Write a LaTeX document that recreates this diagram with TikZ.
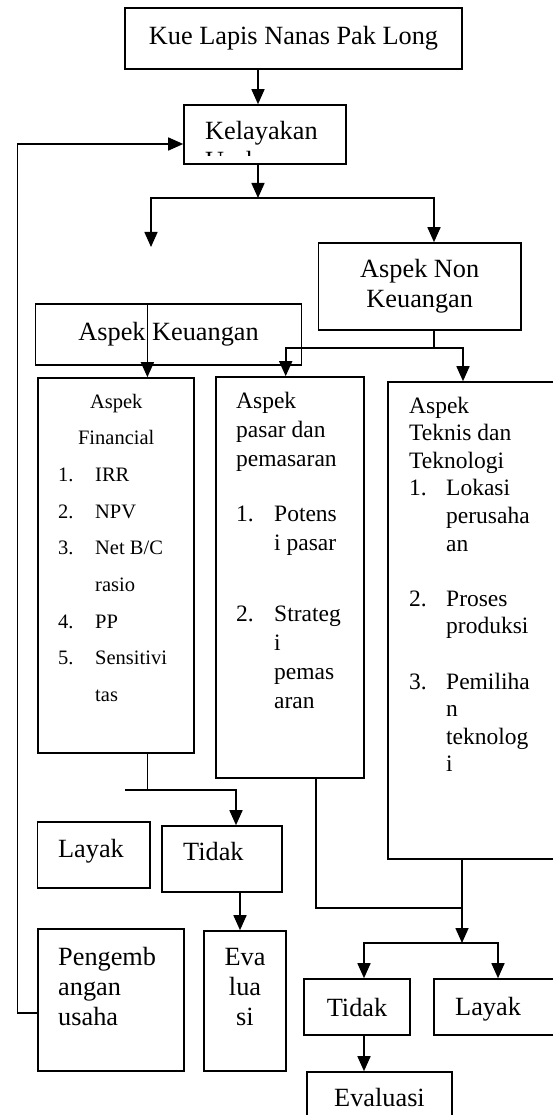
\documentclass[tikz,border=0pt]{standalone}
\usepackage{fontspec}
\setmainfont{Liberation Serif}
\usetikzlibrary{positioning,arrows.meta}

\newcommand\hurufbesar{\fontsize{26.3}{30}\selectfont}
\newcommand\hurufsedang{\fontsize{23.5}{29}\selectfont}
\newcommand\huruftek{\fontsize{23.5}{27.6}\selectfont}
\newcommand\hurufkecil{\fontsize{20.5}{36.7}\selectfont}

\tikzset{
  kotak/.style={draw, line width=1.6pt, inner sep=0pt, font=\hurufbesar},
  teks/.style={inner sep=0pt, font=\hurufbesar},
  panah/.style={line width=1.6pt, -{Triangle[length=15pt,width=13pt]}},
  garis/.style={line width=1.6pt},
  tipis/.style={line width=1.2pt},
}

\begin{document}
\begin{tikzpicture}[x=1pt,y=-1pt]
    \clip (0,0) rectangle (553,1115);
    % kotak atas
    \node[kotak, minimum width=337pt, minimum height=61pt] (kue) at (293.5,38.5) {Kue Lapis Nanas Pak Long};
    \node[kotak, minimum width=162pt, minimum height=59pt] (kel) at (265,134.5) {};
    \begin{scope}
        \clip (kel.north west) rectangle (kel.east |- 0,156);
        \node[teks, anchor=base west] (kel1) at (205,140) {Kelayakan};
        \node[teks, anchor=base west] (kel2) at (205,170) {Usaha};
    \end{scope}
    \node[kotak, minimum width=202.5pt, minimum height=87pt, align=center] (non) at (419.75,286.5) {Aspek Non\\Keuangan};
    \node[kotak, minimum width=266pt, minimum height=61pt] (ak) at (168.6,334.5) {Aspek Keuangan};

    % tiga aspek
    \node[kotak, minimum width=156.3pt, minimum height=375pt] (fin) at (115.85,565.5) {};
    \node[kotak, minimum width=148pt, minimum height=401pt] (pas) at (290,577.5) {};
    \node[kotak, minimum width=182pt, minimum height=477pt] (tek) at (479,620.5) {};
    \node[anchor=base west, inner sep=0pt, font=\hurufkecil] (finteks) at (58,408) {%
        \begin{tabular}[t]{@{}p{37pt}@{}p{79pt}@{}}
        \multicolumn{2}{@{}c@{}}{Aspek}\\
        \multicolumn{2}{@{}c@{}}{Financial}\\
        1. & IRR\\
        2. & NPV\\
        3. & Net B/C\\
           & rasio\\
        4. & PP\\
        5. & Sensitivi\\
           & tas
        \end{tabular}};
    \node[anchor=base west, inner sep=0pt, font=\hurufsedang] (pasteks) at (236,408) {%
        \begin{tabular}[t]{@{}p{38pt}@{}l@{}}
        \multicolumn{2}{@{}l@{}}{Aspek}\\
        \multicolumn{2}{@{}l@{}}{pasar dan}\\
        \multicolumn{2}{@{}l@{}}{pemasaran}\\[26pt]
        1. & Potens\\
           & i pasar\\[42pt]
        2. & Strateg\\
           & i\\
           & pemas\\
           & aran
        \end{tabular}};
    \node[anchor=base west, inner sep=0pt, font=\huruftek] (tekteks) at (409,413) {%
        \begin{tabular}[t]{@{}p{37pt}@{}l@{}}
        \multicolumn{2}{@{}l@{}}{Aspek}\\
        \multicolumn{2}{@{}l@{}}{Teknis dan}\\
        \multicolumn{2}{@{}l@{}}{Teknologi}\\
        1. & Lokasi\\
           & perusaha\\
           & an\\[27.6pt]
        2. & Proses\\
           & produksi\\[27.6pt]
        3. & Pemiliha\\
           & n\\
           & teknolog\\
           & i
        \end{tabular}};

    % hasil kiri
    \node[kotak, minimum width=112.5pt, minimum height=66pt] (lay1) at (93.75,855) {};
    \node[teks, anchor=base] (lay1teks) at (91,857) {Layak};
    \node[kotak, minimum width=120pt, minimum height=66pt] (tid1) at (222,859) {};
    \node[teks, anchor=base west] (tid1teks) at (183,860) {Tidak};
    \node[kotak, minimum width=146.3pt, minimum height=142pt] (peng) at (110.85,1000) {};
    \node[teks, anchor=base west] (pengteks) at (58,965) {%
        \begin{tabular}[t]{@{}l@{}}Pengemb\\angan\\usaha\end{tabular}};
    \node[kotak, minimum width=82pt, minimum height=140pt] (eva) at (245,1001) {};
    \node[teks, anchor=base] (evateks) at (245,965) {%
        \begin{tabular}[t]{@{}c@{}}Eva\\lua\\si\end{tabular}};

    % hasil kanan
    \node[kotak, minimum width=106pt, minimum height=56pt] (tid2) at (357,1007) {Tidak};
    \node[kotak, minimum width=136pt, minimum height=56pt] (lay2) at (502,1007) {};
    \node[teks, anchor=base west] (lay2teks) at (455,1015) {Layak};
    \node[kotak, minimum width=145pt, minimum height=60pt] (evl) at (379.5,1102) {};
    \node[teks, anchor=base] (evlteks) at (379.5,1106) {Evaluasi};

    % titik cabang
    \coordinate (cab) at (258,198);
    \coordinate (ujungki) at (151,247);
    \coordinate (balik) at (17.6,1013);
    \coordinate (akatas) at (147.4,303);
    \coordinate (cab2) at (434,348);
    \coordinate (cab3) at (147.4,790);
    \coordinate (kiri3) at (125,790);
    \coordinate (temu) at (462,908);
    \coordinate (cab5) at (462,943);

    % panah
    \draw[panah] (kue.south -| cab) -- (kel.north -| cab);
    \draw[panah] (kel.south -| cab) -- (cab);
    \draw[panah] (cab) -| (ujungki);
    \draw[panah] (cab) -| (non.north -| 434,0);
    \draw[panah] (peng.west |- balik) -- (balik) |- (kel.west |- 0,144);
    \draw[panah] (akatas) -- (fin.north -| akatas);
    \draw[garis] (non.south -| cab2) -- (cab2);
    \draw[panah] (cab2) -| (pas.north -| 285.7,0);
    \draw[panah] (cab2) -| (tek.north -| 463,0);
    \draw[tipis] (fin.south -| cab3) -- (cab3);
    \draw[panah] (kiri3) -| (tid1.north -| 236,0);
    \draw[garis] (pas.south -| 315.7,0) |- (temu);
    \draw[panah] (tek.south -| cab5) -- (cab5);
    \draw[panah] (cab5) -| (tid2.north -| 364,0);
    \draw[panah] (cab5) -| (lay2.north -| 498,0);
    \draw[panah] (tid1.south -| 240,0) -- (eva.north -| 240,0);
    \draw[panah] (tid2.south -| 364,0) -- (evl.north -| 364,0);
\end{tikzpicture}
\end{document}
